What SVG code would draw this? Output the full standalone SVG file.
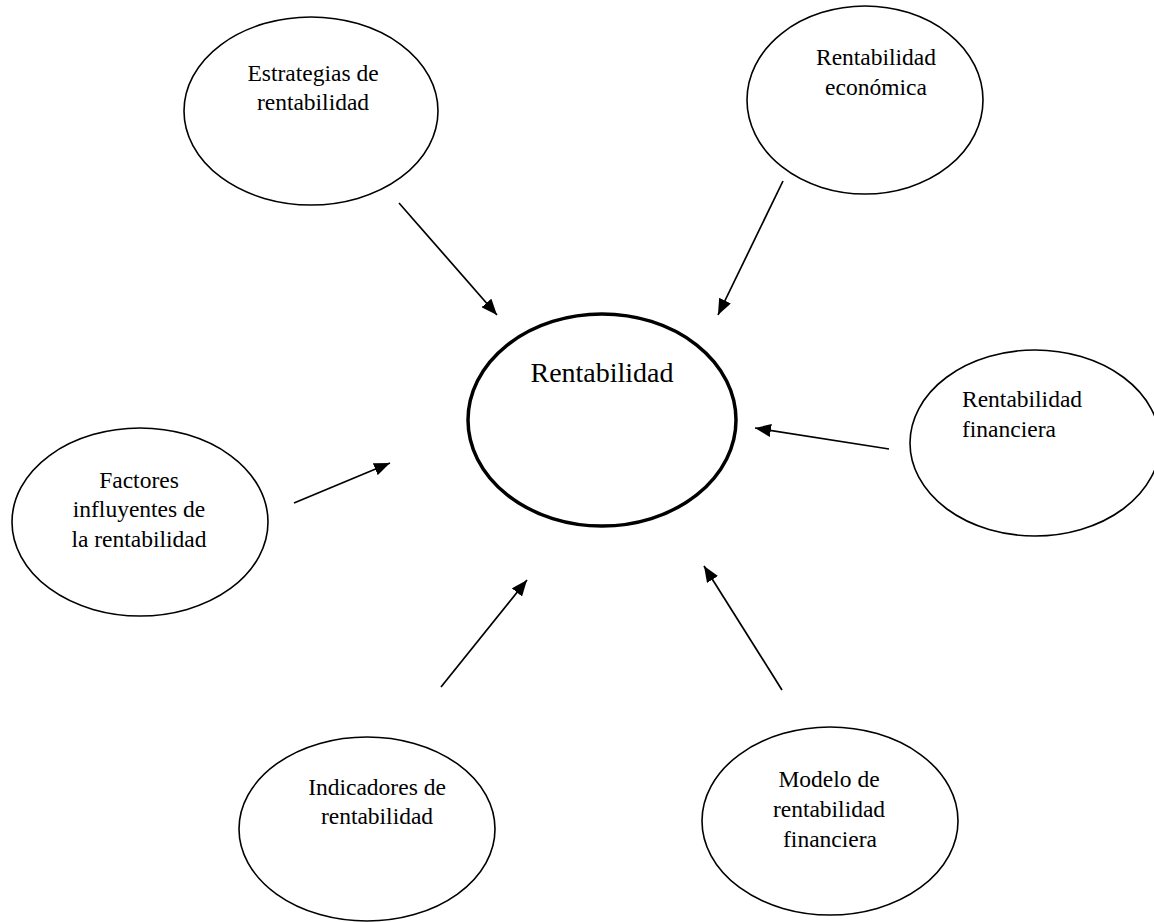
<svg xmlns="http://www.w3.org/2000/svg" width="1154" height="922" viewBox="0 0 1154 922">
<style>
.node{fill:#fff;stroke:#000;stroke-width:1.6}
.main{fill:#fff;stroke:#000;stroke-width:3.5}
.t{font-family:"Liberation Serif","Times New Roman",serif;font-size:23.5px;fill:#000;text-anchor:middle}
.tl{text-anchor:start}
.big{font-size:28px}
.conn line{stroke:#000;stroke-width:1.7;marker-end:url(#ah)}
</style>
<defs>
<marker id="ah" markerUnits="userSpaceOnUse" markerWidth="17" markerHeight="13" refX="16" refY="6.5" orient="auto">
<path d="M0,0 L16,6.5 L0,13 z" fill="#000"/>
</marker>
</defs>
<rect width="1154" height="922" fill="#fff"/>
<g id="n-central">
<ellipse class="main" cx="602" cy="420" rx="134" ry="106"/>
<text class="t big" x="602" y="382">Rentabilidad</text>
</g>
<g id="n-estrategias">
<ellipse class="node" cx="311" cy="111" rx="127" ry="94"/>
<text class="t" x="313" y="81">Estrategias de</text>
<text class="t" x="313" y="110">rentabilidad</text>
</g>
<g id="n-economica">
<ellipse class="node" cx="865" cy="100" rx="118" ry="94"/>
<text class="t" x="876" y="65">Rentabilidad</text>
<text class="t" x="876" y="95">económica</text>
</g>
<g id="n-financiera">
<ellipse class="node" cx="1035" cy="443" rx="125" ry="93"/>
<text class="t tl" x="962" y="407">Rentabilidad</text>
<text class="t tl" x="962" y="437">financiera</text>
</g>
<g id="n-factores">
<ellipse class="node" cx="140" cy="522" rx="128" ry="94"/>
<text class="t" x="139" y="488">Factores</text>
<text class="t" x="139" y="517">influyentes de</text>
<text class="t" x="139" y="547">la rentabilidad</text>
</g>
<g id="n-indicadores">
<ellipse class="node" cx="367" cy="829" rx="128" ry="92"/>
<text class="t" x="377" y="795">Indicadores de</text>
<text class="t" x="377" y="824">rentabilidad</text>
</g>
<g id="n-modelo">
<ellipse class="node" cx="830" cy="821" rx="128" ry="94"/>
<text class="t" x="829" y="787">Modelo de</text>
<text class="t" x="829" y="817">rentabilidad</text>
<text class="t" x="830" y="847">financiera</text>
</g>
<g id="connectors" class="conn">
<line x1="399" y1="203" x2="497" y2="315"/>
<line x1="783" y1="181" x2="718" y2="315"/>
<line x1="889" y1="449" x2="755" y2="428"/>
<line x1="294" y1="503" x2="390" y2="463"/>
<line x1="441" y1="687" x2="527" y2="580"/>
<line x1="782" y1="690" x2="704" y2="566"/>
</g>
</svg>
